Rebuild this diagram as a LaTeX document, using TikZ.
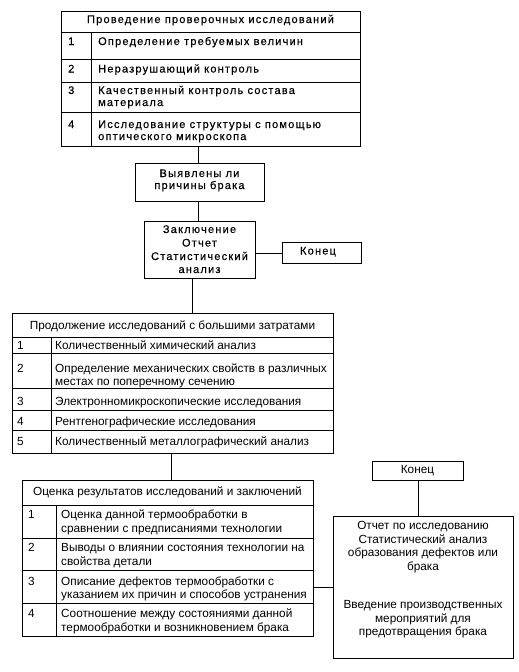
\documentclass[tikz,border=0pt]{standalone}
\usepackage{fontspec}
\setmainfont{Liberation Sans}
\newfontfamily\topfont[LetterSpace=11,FakeBold=0.3]{Liberation Sans}
\begin{document}
\begin{tikzpicture}[x=1pt,y=-1pt,
  box/.style={draw, line width=0.9pt, inner sep=0pt},
  conn/.style={draw, line width=0.9pt},
  rowline/.style={line width=0.9pt},
  ttxt/.style={inner sep=0pt, font=\topfont\fontsize{11}{12}\selectfont},
  ltxt/.style={inner sep=0pt, font=\fontsize{11.8}{13.5}\selectfont}
]
\useasboundingbox (0,0) rectangle (519,672);
% ---------- top table
\node[box, anchor=north west, minimum width=299pt, minimum height=135pt] (t1) at (61,11) {};
\draw[rowline] (61,32) -- (360,32);
\draw[rowline] (61,59) -- (360,59);
\draw[rowline] (61,82) -- (360,82);
\draw[rowline] (61,112) -- (360,112);
\draw[rowline] (91,32) -- (91,146);
\node[ttxt, anchor=base] (t1h) at (210.5,23) {Проведение проверочных исследований};
\node[ttxt, anchor=base west] (t1n1) at (68,45) {1};
\node[ttxt, anchor=base west] (t1r1) at (98,45) {Определение требуемых величин};
\node[ttxt, anchor=base west] (t1n2) at (68,72.5) {2};
\node[ttxt, anchor=base west] (t1r2) at (98,72.5) {Неразрушающий контроль};
\node[ttxt, anchor=base west] (t1n3) at (68,94) {3};
\node[ttxt, anchor=base west] (t1r3a) at (98,94) {Качественный контроль состава};
\node[ttxt, anchor=base west] (t1r3b) at (98,106) {материала};
\node[ttxt, anchor=base west] (t1n4) at (68,128) {4};
\node[ttxt, anchor=base west] (t1r4a) at (98,128) {Исследование структуры с помощью};
\node[ttxt, anchor=base west] (t1r4b) at (98,140) {оптического микроскопа};
% ---------- question box
\node[box, anchor=north west, minimum width=129pt, minimum height=38pt] (q) at (135,163) {};
\node[ttxt, anchor=base] (q1) at (199.5,177) {Выявлены ли};
\node[ttxt, anchor=base] (q2) at (199.5,189) {причины брака};
% ---------- conclusion box
\node[box, anchor=north west, minimum width=111pt, minimum height=57pt] (c) at (144,221) {};
\node[ttxt, anchor=base] (c1) at (199.5,233) {Заключение};
\node[ttxt, anchor=base] (c2) at (199.5,246.5) {Отчет};
\node[ttxt, anchor=base] (c3) at (199.5,260) {Статистический};
\node[ttxt, anchor=base] (c4) at (199.5,273) {анализ};
% ---------- end 1
\node[box, anchor=north west, minimum width=79pt, minimum height=21pt] (e1) at (282,242) {};
\node[ttxt, anchor=base] (e1t) at (318,254.5) {Конец};
% ---------- table 2
\node[box, anchor=north west, minimum width=321pt, minimum height=140pt] (t2) at (12,313) {};
\draw[rowline] (12,337) -- (333,337);
\draw[rowline] (12,353) -- (333,353);
\draw[rowline] (12,388) -- (333,388);
\draw[rowline] (12,410) -- (333,410);
\draw[rowline] (12,430) -- (333,430);
\draw[rowline] (51,337) -- (51,453);
\node[ltxt, anchor=base] (t2h) at (172.5,329) {Продолжение исследований с большими затратами};
\node[ltxt, anchor=base west] (t2n1) at (17,349) {1};
\node[ltxt, anchor=base west] (t2r1) at (55,349) {Количественный химический анализ};
\node[ltxt, anchor=base west] (t2n2) at (17,372) {2};
\node[ltxt, anchor=base west] (t2r2a) at (55,372) {Определение механических свойств в различных};
\node[ltxt, anchor=base west] (t2r2b) at (55,385) {местах по поперечному сечению};
\node[ltxt, anchor=base west] (t2n3) at (17,405.5) {3};
\node[ltxt, anchor=base west] (t2r3) at (55,405.5) {Электронномикроскопические исследования};
\node[ltxt, anchor=base west] (t2n4) at (17,425) {4};
\node[ltxt, anchor=base west] (t2r4) at (55,425) {Рентгенографические исследования};
\node[ltxt, anchor=base west] (t2n5) at (17,445.5) {5};
\node[ltxt, anchor=base west] (t2r5) at (55,445.5) {Количественный металлографический анализ};
% ---------- table 3
\node[box, anchor=north west, minimum width=291pt, minimum height=156pt] (t3) at (22,480) {};
\draw[rowline] (22,505) -- (313,505);
\draw[rowline] (22,538) -- (313,538);
\draw[rowline] (22,570) -- (313,570);
\draw[rowline] (22,603) -- (313,603);
\draw[rowline] (56,505) -- (56,636);
\node[ltxt, anchor=base] (t3h) at (167.5,495) {Оценка результатов исследований и заключений};
\node[ltxt, anchor=base west] (t3n1) at (28,518.5) {1};
\node[ltxt, anchor=base west] (t3r1a) at (61,518.5) {Оценка данной термообработки в};
\node[ltxt, anchor=base west] (t3r1b) at (61,532.5) {сравнении с предписаниями технологии};
\node[ltxt, anchor=base west] (t3n2) at (28,551.5) {2};
\node[ltxt, anchor=base west] (t3r2a) at (61,551.5) {Выводы о влиянии состояния технологии на};
\node[ltxt, anchor=base west] (t3r2b) at (61,565) {свойства детали};
\node[ltxt, anchor=base west] (t3n3) at (28,585) {3};
\node[ltxt, anchor=base west] (t3r3a) at (61,585) {Описание дефектов термообработки с};
\node[ltxt, anchor=base west] (t3r3b) at (61,598.5) {указанием их причин и способов устранения};
\node[ltxt, anchor=base west] (t3n4) at (28,617) {4};
\node[ltxt, anchor=base west] (t3r4a) at (61,617) {Соотношение между состояниями данной};
\node[ltxt, anchor=base west] (t3r4b) at (61,631) {термообработки и возникновением брака};
% ---------- end 2
\node[box, anchor=north west, minimum width=91pt, minimum height=19pt] (e2) at (372,461) {};
\node[ltxt, anchor=base] (e2t) at (417.5,473.5) {Конец};
% ---------- report box
\node[box, anchor=north west, minimum width=180pt, minimum height=142pt] (r) at (333,516) {};
\node[ltxt, anchor=base] (r1) at (423,529.5) {Отчет по исследованию};
\node[ltxt, anchor=base] (r2) at (423,543) {Статистический анализ};
\node[ltxt, anchor=base] (r3) at (423,556.5) {образования дефектов или};
\node[ltxt, anchor=base] (r4) at (423,570) {брака};
\node[ltxt, anchor=base] (r5) at (423,608.5) {Введение производственных};
\node[ltxt, anchor=base] (r6) at (423,622) {мероприятий для};
\node[ltxt, anchor=base] (r7) at (423,635.5) {предотвращения брака};
% ---------- connectors
\draw[conn] (t1.south -| 198,0) -- (198,163 |- q.north);
\draw[conn] (q.south -| 198,0) -- (198,221 |- c.north);
\draw[conn] (c.east |- e1.west) -- (e1.west);
\draw[conn] (c.south -| 192,0) -- (192,313 |- t2.north);
\draw[conn] (t2.south -| 171,0) -- (171,480 |- t3.north);
\draw[conn] (t3.east |- r.west) -- (r.west);
\draw[conn] (e2.south) -- (e2.south |- r.north);
\end{tikzpicture}
\end{document}
